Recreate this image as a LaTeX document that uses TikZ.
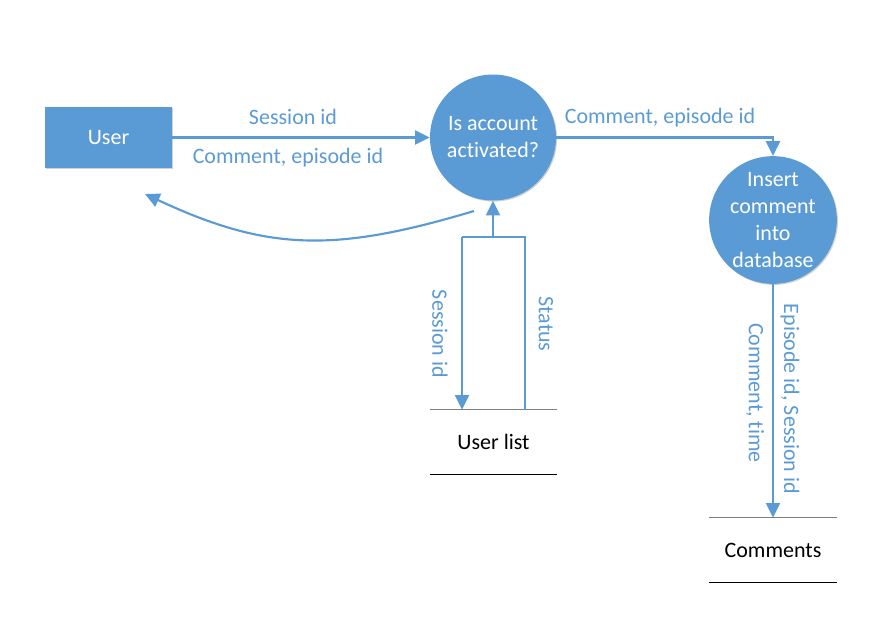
\documentclass[tikz,border=0pt]{standalone}
\usepackage{fontspec}
\setmainfont[Ligatures=NoCommon]{Carlito}
\usetikzlibrary{arrows.meta,shadows,calc}
\definecolor{dfdblue}{HTML}{5B9BD5}
\definecolor{storegray}{HTML}{7F7F7F}
\begin{document}
\begin{tikzpicture}[x=0.75pt,y=-0.75pt,
  every node/.style={font=\fontsize{16.5}{20.25}\selectfont},
  flow/.style={draw=dfdblue,line width=1.6pt,-{Triangle[length=11pt,width=10.5pt]}},
  plain/.style={draw=dfdblue,line width=1.6pt},
  softshadow/.style={drop shadow={shadow xshift=0.8pt,shadow yshift=-0.8pt,fill=black,opacity=0.18}},
  proc/.style={circle,fill=dfdblue,text=white,minimum size=94.5pt,inner sep=0pt,align=center,softshadow},
  ent/.style={rectangle,fill=dfdblue,text=white,minimum width=95.5pt,minimum height=46pt,inner sep=0pt,softshadow},
  lbl/.style={text=dfdblue,inner sep=0pt},
  store/.style={text=black,minimum width=95pt,minimum height=48pt,inner sep=0pt},
  topline/.style={draw=storegray,line width=1.1pt},
  botline/.style={draw=black,line width=0.9pt}
  ]
\useasboundingbox (0,0) rectangle (896,628);

% nodes
\node[ent] (user) at (108.5,137.5) {User};
\node[proc] (acc) at (493,137.5) {Is account\\activated?};
\node[proc] (ins) at (773,220) {Insert\\comment\\into\\database};
\node[store] (ul) at (493.5,442) {User list};
\node[store] (cm) at (773,550) {Comments};

% data stores
\draw[topline] (ul.north west) -- (ul.north east);
\draw[botline] (ul.south west) -- (ul.south east);
\draw[topline] (cm.north west) -- (cm.north east);
\draw[botline] (cm.south west) -- (cm.south east);

% user -> account check
\draw[flow] (user.east) -- (acc.west);
\node[lbl] (lsid) at (293,117) {Session id};
\node[lbl] (lcei) at (288,158) {Comment, episode id};

% account check -> user (curved)
\coordinate (cs) at (474,211);
\coordinate (ce) at (145,194);
\draw[flow] (cs) .. controls (334,253) and (267,251) .. (ce);

% account check <-> user list
\coordinate (sj) at (462,237);
\coordinate (st) at (525,237);
\draw[flow] (sj) -- (sj |- ul.north);
\draw[plain] (st |- ul.north) -- (st) -- (sj);
\draw[flow] (acc.south |- sj) -- (acc.south);
\node[lbl,rotate=-90] (lsid2) at (440,334) {Session id};
\node[lbl,rotate=-90] (lstat) at (546,324) {Status};

% account check -> insert
\draw[flow] (acc.east) -| (ins.north);
\node[lbl] (lcei2) at (660,118) {Comment, episode id};

% insert -> comments
\draw[flow] (ins.south) -- (cm.north);
\node[lbl,rotate=-90] (les) at (790,399) {Episode id, Session id};
\node[lbl,rotate=-90] (lct) at (755,393) {Comment, time};
\end{tikzpicture}
\end{document}
